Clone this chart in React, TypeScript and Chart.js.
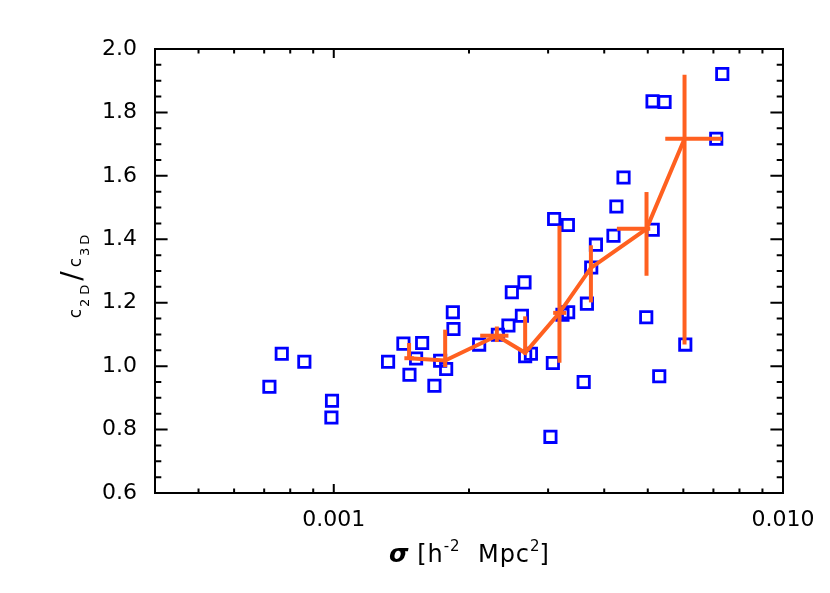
import React, { useEffect, useRef } from "react";
import { Chart, registerables } from "chart.js";
Chart.register(...registerables);

// Individual objects
const sigma = [0.000719, 0.000766, 0.00086, 0.000991, 0.000988, 0.001321, 0.001429, 0.001573, 0.001525, 0.001474, 0.001725, 0.001779, 0.001675, 0.001841, 0.001847, 0.002107, 0.002319, 0.002448, 0.002491, 0.002658, 0.002623, 0.002667, 0.002747, 0.003074, 0.003036, 0.003094, 0.00332, 0.003325, 0.003229, 0.0036, 0.00366, 0.003742, 0.003833, 0.004194, 0.004257, 0.004416, 0.004961, 0.005129, 0.005124, 0.005449, 0.005303, 0.00606, 0.007102, 0.007325];
const ratio = [0.935, 1.039, 1.014, 0.891, 0.838, 1.014, 1.071, 1.073, 1.024, 0.973, 1.017, 0.991, 0.938, 1.17, 1.117, 1.068, 1.099, 1.128, 1.233, 1.264, 1.159, 1.031, 1.039, 1.01, 0.777, 1.464, 1.445, 1.17, 1.162, 0.95, 1.197, 1.311, 1.383, 1.411, 1.5035, 1.595, 1.154, 1.43, 1.835, 1.833, 0.968, 1.068, 1.717, 1.921];

// Binned means with error bars
const binSigma = [0.001471, 0.00177, 0.002307, 0.002667, 0.00318, 0.003736, 0.004968, 0.006037];
const binRatio = [1.025, 1.018, 1.096, 1.042, 1.168, 1.31, 1.433, 1.717];
const binRatioLow = [1.02, 0.997, 1.076, 1.036, 1.011, 1.201, 1.285, 1.068];
const binRatioHigh = [1.073, 1.115, 1.125, 1.157, 1.443, 1.381, 1.549, 1.919];
const binSigmaLow = [0.001436, 0.00177, 0.002118, 0.002667, 0.003079, 0.003736, 0.004268, 0.005469];
const binSigmaHigh = [0.001507, 0.00177, 0.002448, 0.002667, 0.003292, 0.003736, 0.005064, 0.007313];

// Ticks
const xTickValues = [0.001, 0.01];
const xTickLabels = ["0.001", "0.010"];
const xMinorTicks = [0.0004, 0.0005, 0.0006, 0.0007, 0.0008, 0.0009, 0.002, 0.003, 0.004, 0.005, 0.006, 0.007, 0.008, 0.009];
const yTickValues = [0.6, 0.8, 1.0, 1.2, 1.4, 1.6, 1.8, 2.0];
const yTickLabels = ["0.6", "0.8", "1.0", "1.2", "1.4", "1.6", "1.8", "2.0"];
const yMinorStep = 0.05;

const ORANGE = "rgb(255,96,32)";
const BLUE = "#0000ff";
const FONT = "'DejaVu Sans', sans-serif";

type Part = { t: string; size: number; dy?: number; style?: string; ls?: number };

function drawRich(ctx: CanvasRenderingContext2D, parts: Part[], cx: number, baseY: number, family: string) {
  const c: any = ctx;
  let total = 0;
  const widths = parts.map((p) => {
    ctx.font = `${p.style || ""} ${p.size}px ${family}`;
    c.letterSpacing = `${p.ls || 0}px`;
    const w = ctx.measureText(p.t).width;
    total += w;
    return w;
  });
  let x = cx - total / 2;
  ctx.textAlign = "left";
  ctx.textBaseline = "alphabetic";
  parts.forEach((p, i) => {
    ctx.font = `${p.style || ""} ${p.size}px ${family}`;
    c.letterSpacing = `${p.ls || 0}px`;
    ctx.fillText(p.t, x, baseY + (p.dy || 0));
    x += widths[i];
  });
  c.letterSpacing = "0px";
}

const framePlugin = {
  id: "idlFrame",
  afterDatasetsDraw(chart: any) {
    const ctx: CanvasRenderingContext2D = chart.ctx;
    const { left, right, top, bottom } = chart.chartArea;
    const xs = chart.scales.x;
    const ys = chart.scales.y;
    ctx.save();
    ctx.strokeStyle = "#000";
    ctx.lineWidth = 2;
    ctx.lineCap = "butt";
    ctx.strokeRect(left, top, right - left, bottom - top);
    const xMaj = 9, xMin = 4.5, yMaj = 12.6, yMin = 6.3;
    ctx.beginPath();
    const vx = (v: number, len: number) => {
      const p = xs.getPixelForValue(v);
      ctx.moveTo(p, bottom);
      ctx.lineTo(p, bottom - len);
      ctx.moveTo(p, top);
      ctx.lineTo(p, top + len);
    };
    const hy = (v: number, len: number) => {
      const p = ys.getPixelForValue(v);
      ctx.moveTo(left, p);
      ctx.lineTo(left + len, p);
      ctx.moveTo(right, p);
      ctx.lineTo(right - len, p);
    };
    xTickValues.forEach((v) => vx(v, xMaj));
    xMinorTicks.forEach((v) => vx(v, xMin));
    yTickValues.forEach((v, i) => {
      hy(v, yMaj);
      if (i < yTickValues.length - 1) {
        for (let k = 1; k < 4; k++) hy(v + k * yMinorStep, yMin);
      }
    });
    ctx.stroke();
    ctx.restore();
  },
  afterDraw(chart: any) {
    const ctx: CanvasRenderingContext2D = chart.ctx;
    const { left, right, top, bottom } = chart.chartArea;
    ctx.save();
    ctx.fillStyle = "#000";
    // x title
    drawRich(
      ctx,
      [
        { t: "σ", size: 25, style: "italic bold" },
        { t: " [h", size: 24, ls: 1 },
        { t: "-2", size: 15, dy: -11, ls: 1 },
        { t: "  Mpc", size: 24, ls: 1 },
        { t: "2", size: 15, dy: -11 },
        { t: "]", size: 24 },
      ],
      (left + right) / 2,
      562,
      FONT
    );
    // y title (rotated)
    ctx.translate(80.5, 275);
    ctx.rotate(-Math.PI / 2);
    drawRich(
      ctx,
      [
        { t: "c", size: 17, ls: 2 },
        { t: "2D", size: 13, dy: 8.8, ls: 4 },
        { t: "/", size: 28, ls: 4 },
        { t: "c", size: 17, ls: 2 },
        { t: "3D", size: 13, dy: 8.8, ls: 3 },
      ],
      0,
      0,
      FONT
    );
    ctx.restore();
  },
};

export default function App() {
  const ref = useRef<HTMLCanvasElement | null>(null);
  useEffect(() => {
    if (!ref.current) return;
    const datasets: any[] = [];
    const lineStyle = {
      showLine: true,
      borderColor: ORANGE,
      backgroundColor: ORANGE,
      borderWidth: 4,
      pointRadius: 0,
      borderCapStyle: "butt",
      tension: 0,
    };
    datasets.push({
      ...lineStyle,
      data: binSigma.map((x, i) => ({ x, y: binRatio[i] })),
    });
    binSigma.forEach((x, i) => {
      if (binRatioHigh[i] > binRatioLow[i]) {
        datasets.push({
          ...lineStyle,
          data: [
            { x, y: binRatioLow[i] },
            { x, y: binRatioHigh[i] },
          ],
        });
      }
      if (binSigmaHigh[i] > binSigmaLow[i]) {
        datasets.push({
          ...lineStyle,
          data: [
            { x: binSigmaLow[i], y: binRatio[i] },
            { x: binSigmaHigh[i], y: binRatio[i] },
          ],
        });
      }
    });
    datasets.push({
      data: sigma.map((x, i) => ({ x, y: ratio[i] })),
      pointStyle: "rect",
      pointRadius: 8,
      pointBorderWidth: 2.8,
      pointBorderColor: BLUE,
      pointBackgroundColor: "rgba(0,0,0,0)",
      showLine: false,
    });

    const chart = new Chart(ref.current, {
      type: "scatter",
      data: { datasets },
      options: {
        animation: false,
        responsive: false,
        devicePixelRatio: 1,
        layout: { padding: { top: 49, right: 47, left: 0, bottom: 0 } },
        plugins: { legend: { display: false }, tooltip: { enabled: false } },
        scales: {
          x: {
            type: "logarithmic",
            min: 0.0004,
            max: 0.01,
            grid: { display: false, drawTicks: false },
            border: { display: false },
            afterBuildTicks: (s: any) => {
              s.ticks = xTickValues.map((v) => ({ value: v }));
            },
            afterFit: (s: any) => {
              s.height = 100;
            },
            ticks: {
              callback: (_v: any, i: number) => xTickLabels[i],
              font: { size: 22, family: FONT },
              color: "#000",
              padding: 14,
              maxRotation: 0,
              autoSkip: false,
            },
          },
          y: {
            type: "linear",
            min: 0.6,
            max: 2.0,
            grid: { display: false, drawTicks: false },
            border: { display: false },
            afterBuildTicks: (s: any) => {
              s.ticks = yTickValues.map((v) => ({ value: v }));
            },
            afterFit: (s: any) => {
              s.width = 155;
            },
            ticks: {
              callback: (_v: any, i: number) => yTickLabels[i],
              font: { size: 22, family: FONT },
              color: "#000",
              padding: 18,
              autoSkip: false,
            },
          },
        },
      } as any,
      plugins: [framePlugin],
    });
    return () => chart.destroy();
  }, []);
  return (
    <div style={{ position: "absolute", left: 0, top: 0, width: 830, height: 593, background: "#fff" }}>
      <canvas ref={ref} width={830} height={593} style={{ display: "block" }} />
    </div>
  );
}
